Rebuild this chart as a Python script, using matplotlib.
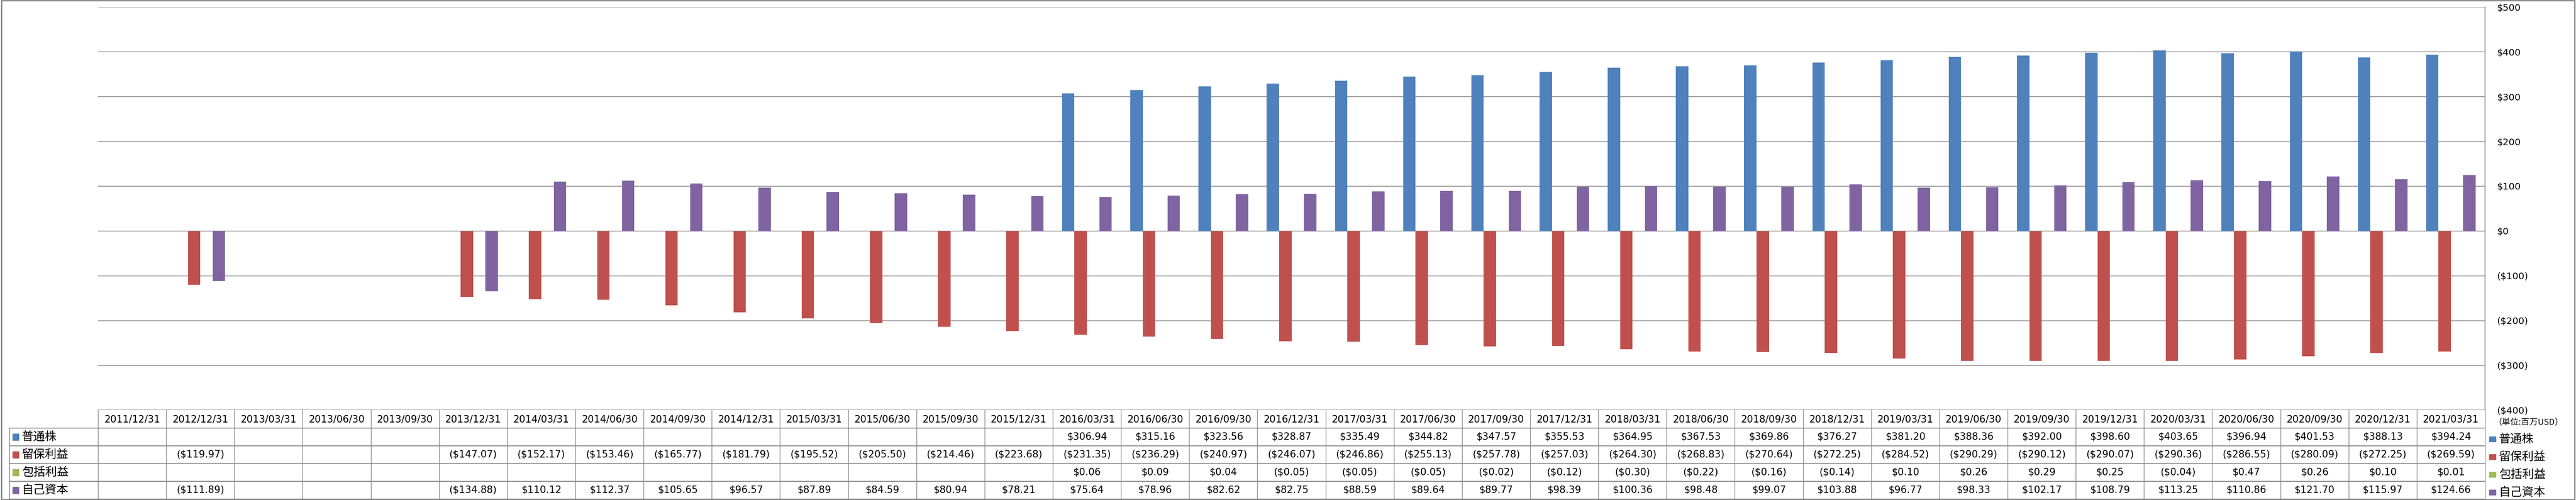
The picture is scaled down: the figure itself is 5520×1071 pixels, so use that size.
import numpy as np
import matplotlib
matplotlib.use("Agg")
import matplotlib.pyplot as plt
from matplotlib.patches import Rectangle
from matplotlib.lines import Line2D
from matplotlib.transforms import blended_transform_factory

plt.rcParams['font.family'] = ['DejaVu Sans', 'Noto Sans CJK JP']

nan = np.nan

# Quarter-end dates (table header).
dates = ['2011/12/31', '2012/12/31', '2013/03/31', '2013/06/30', '2013/09/30', '2013/12/31',
         '2014/03/31', '2014/06/30', '2014/09/30', '2014/12/31', '2015/03/31', '2015/06/30',
         '2015/09/30', '2015/12/31', '2016/03/31', '2016/06/30', '2016/09/30', '2016/12/31',
         '2017/03/31', '2017/06/30', '2017/09/30', '2017/12/31', '2018/03/31', '2018/06/30',
         '2018/09/30', '2018/12/31', '2019/03/31', '2019/06/30', '2019/09/30', '2019/12/31',
         '2020/03/31', '2020/06/30', '2020/09/30', '2020/12/31', '2021/03/31']

# Values in million USD (empty cells are nan).
common_stock = [nan] * 14 + [306.94, 315.16, 323.56, 328.87, 335.49, 344.82, 347.57, 355.53,
                             364.95, 367.53, 369.86, 376.27, 381.20, 388.36, 392.00, 398.60,
                             403.65, 396.94, 401.53, 388.13, 394.24]
retained = [nan, -119.97, nan, nan, nan, -147.07, -152.17, -153.46, -165.77, -181.79, -195.52,
            -205.50, -214.46, -223.68, -231.35, -236.29, -240.97, -246.07, -246.86, -255.13,
            -257.78, -257.03, -264.30, -268.83, -270.64, -272.25, -284.52, -290.29, -290.12,
            -290.07, -290.36, -286.55, -280.09, -272.25, -269.59]
comprehensive = [nan] * 14 + [0.06, 0.09, 0.04, -0.05, -0.05, -0.05, -0.02, -0.12, -0.30, -0.22,
                              -0.16, -0.14, 0.10, 0.26, 0.29, 0.25, -0.04, 0.47, 0.26, 0.10, 0.01]
equity = [nan, -111.89, nan, nan, nan, -134.88, 110.12, 112.37, 105.65, 96.57, 87.89, 84.59,
          80.94, 78.21, 75.64, 78.96, 82.62, 82.75, 88.59, 89.64, 89.77, 98.39, 100.36, 98.48,
          99.07, 103.88, 96.77, 98.33, 102.17, 108.79, 113.25, 110.86, 121.70, 115.97, 124.66]

series_names = ['普通株', '留保利益', '包括利益', '自己資本']
series_values = [common_stock, retained, comprehensive, equity]
colors = ['#4F81BD', '#C0504D', '#9BBB59', '#8064A2']
yticks = [500, 400, 300, 200, 100, 0, -100, -200, -300, -400]

W, H = 5520, 1071
GRID = '#868686'


def fx(x):
    return x / W


def fy(y):
    return 1 - y / H


def money(v):
    if np.isnan(v):
        return ''
    return f'(${-v:,.2f})' if v < 0 else f'${v:,.2f}'


fig = plt.figure(figsize=(W / 100, H / 100), dpi=100)
ax_left, ax_right, ax_top, ax_bottom = 210, 5325, 15.3, 878.4
ax = fig.add_axes([fx(ax_left), fy(ax_bottom), fx(ax_right - ax_left), (ax_bottom - ax_top) / H])

# Clustered bars (gap width 150%).
n = len(dates)
x = np.arange(n)
bw = 1 / 5.5
for k, (vals, color) in enumerate(zip(series_values, colors)):
    ax.bar(x + (k - 1.5) * bw, np.array(vals, dtype=float), width=bw, color=color, zorder=3)

ax.set_xlim(-0.5, n - 0.5)
ax.set_ylim(-400, 500)
ax.set_yticks(yticks)
ax.set_yticklabels([f'(${-t})' if t < 0 else f'${t}' for t in yticks], fontsize=14.5)
for lbl, t in zip(ax.get_yticklabels(), yticks):
    lbl.set_color('#FF0000' if t < 0 else 'black')
ax.set_xticks([])
ax.tick_params(axis='y', left=False, right=True, labelleft=False, labelright=True, length=0, pad=18)
ax.grid(axis='y', color=GRID, lw=1.1, zorder=0)
for s in ['left', 'top', 'bottom']:
    ax.spines[s].set_visible(False)
ax.spines['right'].set_color(GRID)
ax.spines['right'].set_linewidth(1.3)

# Data table below the plot.
tr = blended_transform_factory(ax.transData, fig.transFigure)
row_edges = [878.4, 917, 955, 993, 1031, 1069]
for y in row_edges[1:]:
    fig.add_artist(Line2D([fx(20), fx(ax_right)], [fy(y), fy(y)], color=GRID, lw=1.3))
fig.add_artist(Line2D([fx(20), fx(20)], [fy(917), fy(1069)], color=GRID, lw=1.3))
for i in range(n + 1):
    fig.add_artist(Line2D([i - 0.5, i - 0.5], [fy(878.4), fy(1069)], color=GRID, lw=1.0,
                          transform=tr))

for i, d in enumerate(dates):
    fig.text(i, fy(898), d, transform=tr, ha='center', va='center', fontsize=15)
row_centers = [936, 974, 1012, 1050]
for r, (name, vals, color) in enumerate(zip(series_names, series_values, colors)):
    yc = row_centers[r]
    for i, v in enumerate(vals):
        fig.text(i, fy(yc), money(v), transform=tr, ha='center', va='center', fontsize=15)
    # row label with colour key
    fig.add_artist(Rectangle((fx(27), fy(yc + 7)), 13 / W, 14 / H, color=color,
                             transform=fig.transFigure))
    fig.text(fx(47), fy(yc), name, ha='left', va='center', fontsize=18,
             family=['Noto Sans CJK JP'])
    # legend to the right of the table
    fig.add_artist(Rectangle((fx(5334), fy(yc + 10)), 14 / W, 11 / H, color=color,
                             transform=fig.transFigure))
    fig.text(fx(5355), fy(yc + 5), name, ha='left', va='center', fontsize=18,
             family=['Noto Sans CJK JP'])

fig.text(fx(5343), fy(905), '（単位:百万USD）', ha='left', va='center', fontsize=13,
         family=['Noto Sans CJK JP', 'DejaVu Sans'])

# Chart border.
fig.add_artist(Rectangle((0.0005, 0.001), 0.999, 0.998, fill=False, ec=GRID, lw=2,
                         transform=fig.transFigure))

fig.savefig('out.png', dpi=100, facecolor='white')
